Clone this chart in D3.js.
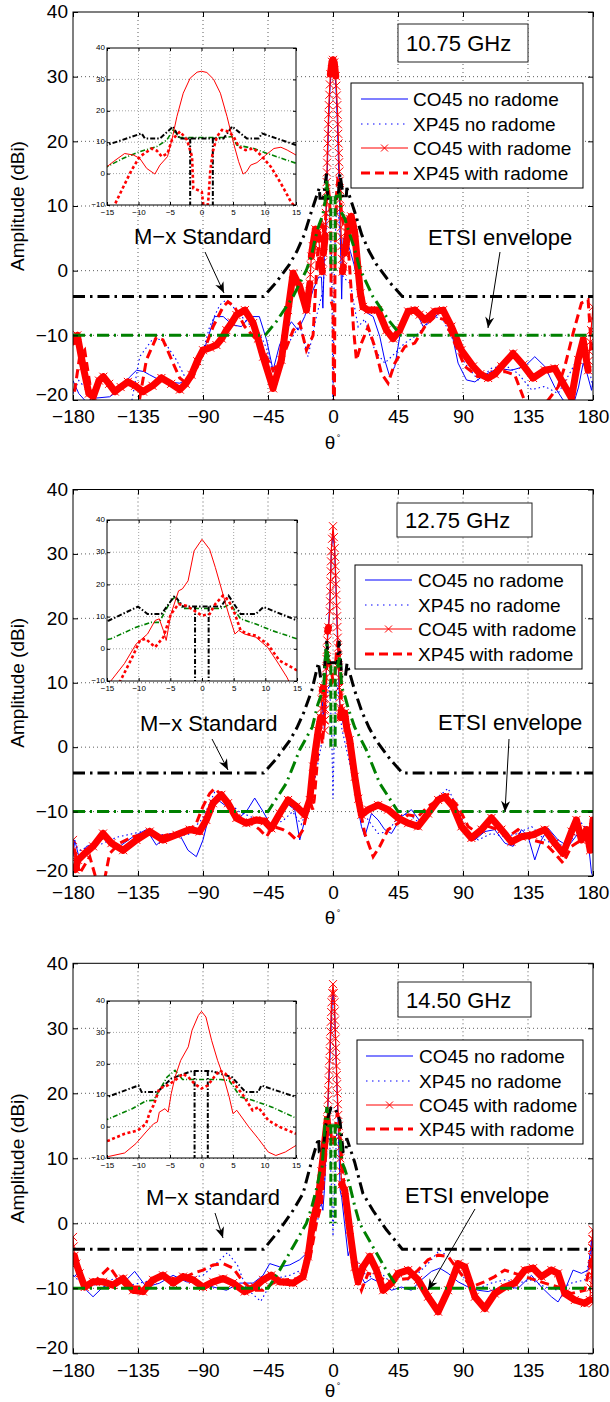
<!DOCTYPE html>
<html><head><meta charset="utf-8">
<script src="https://cdn.jsdelivr.net/npm/d3@7"></script>
<style>body{margin:0;background:#fff}svg{display:block}text{font-family:"Liberation Sans",Arial,Helvetica,sans-serif}</style>
</head><body><svg id="c" width="610" height="1402"></svg>
<script>
// ---------- ticks & labels ----------
const xTicks=[-180,-135,-90,-45,0,45,90,135,180];
const yTicks=[-20,-10,0,10,20,30,40];
const insetXTicks=[-15,-10,-5,0,5,10,15];
const insetYTicks=[-10,0,10,20,30,40];
const freqLabels=["10.75 GHz","12.75 GHz","14.50 GHz"];
const legendLabels=["CO45 no radome","XP45 no radome","CO45 with radome","XP45 with radome"];
const mxLabels=["M\u2212x Standard","M\u2212x Standard","M\u2212x standard"];
const etsiLabels=["ETSI envelope","ETSI envelope","ETSI envelope"];

// ---------- 10.75 GHz ----------
const coNoRad1075=[[-180,-17],[-176,-19],[-170,-20.5],[-164,-19.7],[-154.6,-19.5],[-147.7,-18.4],[-141,-16.5],[-136,-15.4],[-131,-15.6],[-127,-16.1],[-121,-16.8],[-115.4,-17.2],[-106,-17.4],[-101,-16.8],[-97,-15.6],[-90,-12.8],[-86,-10],[-82,-7.1],[-76,-7.1],[-72,-7.9],[-69,-8.4],[-63.4,-8.65],[-57.7,-7.1],[-51,-7.1],[-46,-10.7],[-41.5,-15.4],[-37,-11.5],[-32.3,-9.2],[-28.8,-7.9],[-24.2,-9.2],[-19.6,-7.1],[-13.8,-3],[-10,-1],[-8,-1],[-7,-5.8],[-6,2],[-5,6],[-4,15],[-3,23],[-2,28.5],[-1,31.5],[0,32],[1,31.5],[2,28.5],[3,23],[4,15],[5,6],[6,-4.4],[7,5],[9,5],[12,3],[14.5,1],[17.4,-2],[22,-6.3],[27.8,-7.1],[32.4,-10.2],[35.8,-13.8],[39.3,-16.4],[42.8,-14.8],[46.2,-10.2],[50.8,-6.1],[56.6,-5.8],[62.4,-8.65],[68.2,-7.6],[75,-6.3],[82,-9.4],[86.6,-14.3],[92.4,-16.9],[98.2,-17.2],[105,-16.1],[114.3,-15.1],[123.5,-15.4],[132.8,-14.8],[139.7,-13.3],[146.6,-14.8],[153.5,-18],[159.3,-20],[166,-21],[170,-18],[173.2,-14.3],[176,-16],[179,-18.5],[180,-17]];
const xpNoRad1075=[[-180,-19],[-176,-17],[-172,-18],[-168,-20],[-160,-21],[-140,-21],[-133.8,-13.3],[-124.6,-10.5],[-117.7,-10.7],[-108.4,-13.8],[-101.5,-16.9],[-92.3,-14.3],[-85.4,-8.65],[-78.4,-5.3],[-73.8,-4.5],[-69.2,-5.6],[-60,-7.9],[-50.8,-9.7],[-46,-12],[-41.5,-15.9],[-32.3,-11.75],[-23,-8.4],[-17.3,-13.3],[-11.5,-7.1],[-6.9,-3],[-4,8],[-2.5,10],[-1,2],[0,-20],[1,2],[2.5,10],[4,8],[7,-1],[12,-2],[17.4,-8.7],[22,-7.5],[28.9,-12.3],[35.8,-14.3],[42.8,-12.8],[49.7,-11.2],[56.6,-10.2],[63.5,-8.65],[70.5,-7.1],[76,-7.5],[82,-10.2],[91.2,-14.3],[100.5,-16.9],[109.7,-15.1],[118.9,-14.6],[128.1,-15.9],[137.4,-18.4],[146.6,-17.9],[155.8,-19],[165.1,-15.4],[172,-12.3],[176,-14],[180,-18]];
const coRad1075=[[-180,-11],[-177,-10],[-173,-14.8],[-169,-19],[-166,-19.5],[-162,-17],[-159,-16.4],[-155,-17.5],[-151,-18.7],[-147,-18],[-142,-17.2],[-137,-17.8],[-131.5,-18.7],[-125,-17.8],[-118.8,-16.6],[-112,-17.5],[-106,-18.4],[-102,-17.5],[-98,-16.1],[-94,-14],[-90,-12.3],[-85,-11.9],[-80.7,-11.5],[-77,-10.5],[-73.8,-9.2],[-70,-8],[-66.9,-6.85],[-61,-6.1],[-55.3,-8.1],[-52,-10.5],[-48.4,-13.3],[-41.5,-18.2],[-35.7,-13.8],[-31.1,-6.1],[-27.6,-0.4],[-23,-2.5],[-18.4,-6.1],[-16,-2],[-15,2.2],[-14,3.8],[-12.2,6.4],[-10.8,5.9],[-9.8,4.85],[-8.7,1.65],[-7.4,-0.15],[-6.6,2.7],[-5.4,5.4],[-4.7,10.7],[-3.9,18.2],[-2.9,25.6],[-1.8,30.4],[-0.7,32.3],[0,32.6],[0.85,32.2],[1.9,30.1],[3,25.6],[4.05,18.2],[5.1,9.6],[5.9,3.8],[6.6,-0.15],[7.15,0.6],[7.8,2.7],[8.8,3.5],[10.2,5.9],[11.5,8],[12.6,8.4],[13.6,7.5],[15,5.9],[17.4,0.1],[19,-3.5],[20.8,-5.6],[24.3,-6.1],[31.2,-6.1],[37,-9.2],[41.6,-10.5],[46.2,-9.2],[52,-6.3],[56.6,-6.1],[60,-6.8],[63.5,-7.6],[67,-7],[70.5,-6.3],[76.2,-6.1],[82,-8.65],[88.9,-12.3],[97,-14.8],[102,-16],[107.4,-16.6],[112,-16],[116.6,-14.8],[124.7,-12.8],[131.6,-14.6],[138.5,-16.6],[146.6,-15.4],[153.5,-15.1],[159.3,-17.4],[165.1,-19.7],[169.7,-13.8],[173.2,-10.7],[176.6,-15.4],[178,-11],[180,-5.6]];
const xpRad1075=[[-180,-18.5],[-178.8,-18.5],[-175.4,-13.3],[-171.9,-12.3],[-168.4,-17.4],[-165,-21],[-140,-22],[-134,-20],[-129.2,-13.8],[-122.3,-10.3],[-117.7,-10.7],[-110.7,-14.3],[-106.1,-16.6],[-101.5,-17.4],[-96.9,-16.4],[-90,-12.8],[-83,-8.65],[-76.1,-5.6],[-72.7,-4.8],[-68.1,-5.6],[-61.1,-8.65],[-53,-10.7],[-48.4,-12.3],[-41.5,-15.4],[-34.6,-13.3],[-27.6,-9.2],[-23,-8.1],[-18.4,-12.3],[-13.8,-10],[-12.4,-4.2],[-11.1,1.1],[-9.8,5.4],[-7.9,8],[-7.1,7.3],[-6.3,5.4],[-5.4,6.4],[-4.7,10.7],[-3.4,13.4],[-2.3,10.7],[-1.5,5.4],[-1.3,-4.7],[-0.5,-5.3],[0.05,-5.8],[0.4,-25],[0.9,-25],[1.4,1.1],[1.8,7],[2.45,11.8],[3.25,13.9],[4.3,13.4],[5.1,11.8],[5.9,8.6],[7,7.5],[8.3,8],[9.4,5.9],[11,2.2],[12.6,-3.1],[14.2,-9],[16.2,-13.8],[19.7,-11.2],[24.3,-8.7],[28.9,-11.75],[33.5,-15.9],[38.1,-17.4],[42.8,-14.3],[49.7,-11.75],[56.6,-11.2],[63.5,-8.65],[70.5,-7.1],[77.4,-7.6],[84.3,-11.2],[91.2,-14.8],[100.5,-16.4],[109.7,-15.9],[118.9,-15.6],[125.8,-16.1],[131.6,-19.5],[137.4,-23],[149,-20],[155.8,-18],[160.5,-14.8],[166.2,-9.7],[172,-5],[176.6,-4.5],[179,-12.3],[180,-13]];
const mx1075=[[-180,-4],[-48,-4],[-40,-2],[-30,1],[-25,3],[-20,5.5],[-15,9.1],[-9.5,12.8],[-9,11.2],[-6.6,11.2],[-4.5,15],[-3.5,11.2],[3.5,11.2],[4.85,15],[7.2,11.2],[9.1,11.2],[9.6,12.8],[15,9.1],[20,5.5],[25,3],[30,1],[40,-2],[48,-4],[180,-4]];
const mxNotch1075=[[[-1.8,11.2],[-1.8,-30]],[[1.8,11.2],[1.8,-30]]];
const etsi1075=[[-180,-10],[-47,-10],[-39,-7.8],[-27.6,-4],[-18.4,0.1],[-15,2.2],[-12.4,4.9],[-9.8,7],[-7.1,8.6],[-5.5,10.7],[-4.5,13.9],[-3.5,11.5],[3.5,11.5],[4.85,11.8],[5.6,9.1],[8.3,8],[9.6,7],[15,3.3],[18.4,0.4],[27.6,-4],[39,-7.8],[47,-10],[180,-10]];
const etsiNotch1075=[[[-1.5,11.5],[-1.5,0]],[[1.5,11.5],[1.5,0]]];
const insetCo1075=[[-15,2.2],[-14,3.8],[-12.2,6.4],[-10.8,5.9],[-9.8,4.85],[-8.7,1.65],[-7.4,-0.15],[-6.6,2.7],[-5.4,5.4],[-4.7,10.7],[-3.9,18.2],[-2.9,25.6],[-1.8,30.4],[-0.7,32.3],[0,32.6],[0.85,32.2],[1.9,30.1],[3,25.6],[4.05,18.2],[5.1,9.6],[5.9,3.8],[6.6,-0.15],[7.15,0.6],[7.8,2.7],[8.8,3.5],[10.2,5.9],[11.5,8],[12.6,8.4],[13.6,7.5],[15,5.9]];
const insetXp1075=[[-15,-14],[-13.8,-10],[-12.4,-4.2],[-11.1,1.1],[-9.8,5.4],[-7.9,8],[-7.1,7.3],[-6.3,5.4],[-5.4,6.4],[-4.7,10.7],[-3.4,13.4],[-2.3,10.7],[-1.5,5.4],[-1.3,-4.7],[-0.5,-5.3],[0.05,-5.8],[0.4,-12],[0.75,-14],[1.1,-8],[1.4,1.1],[1.8,7],[2.45,11.8],[3.25,13.9],[4.3,13.4],[5.1,11.8],[5.9,8.6],[7,7.5],[8.3,8],[9.4,5.9],[11,2.2],[12.6,-3.1],[14.2,-9],[15,-11]];

// ---------- 12.75 GHz ----------
const coNoRad1275=[[-180,-17],[-178.8,-14.4],[-175.4,-17.5],[-170.7,-15.4],[-163.8,-14.9],[-156.9,-13.9],[-147.7,-15.4],[-138.4,-13.9],[-129.2,-12.8],[-122.3,-15.2],[-113,-13.4],[-106.1,-13.6],[-100.4,-16],[-94.6,-17],[-90,-14.4],[-85.4,-10.3],[-79.6,-8.2],[-73.8,-9.2],[-66.9,-11.3],[-60,-10],[-54.2,-7.9],[-48.4,-10],[-42.7,-12.3],[-38,-11.3],[-32.3,-8.7],[-26.5,-9.7],[-23,-14.4],[-18.4,-10.3],[-13.8,-4],[-10,2],[-8,4],[-7,7],[-6,3],[-5,9],[-4,16],[-3,19],[-2,24],[-1,31],[0,33],[1,31],[2,25],[3,17],[4,10],[5,5],[6,4.5],[8,3],[10.5,0],[13,-4],[16,-8],[19.7,-12.3],[22,-13.9],[26.6,-10.3],[31.2,-11.3],[35.8,-12.8],[40.5,-13.4],[47.4,-10.8],[54.3,-9.7],[61.2,-11.8],[70.5,-8.7],[77.4,-7.7],[84.3,-9.7],[91.2,-12.8],[98.2,-14.4],[105.1,-13.1],[112,-12.8],[119,-14.9],[124.7,-15.4],[130.5,-12.8],[135.1,-13.9],[139.7,-17.5],[144.3,-14.4],[149,-12.6],[155.8,-14.4],[162.8,-15.4],[169.7,-13.4],[176.6,-14.4],[179,-19.6],[180,-20]];
const xpNoRad1275=[[-180,-15],[-175,-16],[-170,-15.5],[-160,-15],[-150,-14],[-140,-13.5],[-130,-13],[-120,-13.5],[-110,-14],[-100,-13.5],[-90,-11],[-82,-7],[-75,-8],[-65,-10],[-55,-11],[-45,-12],[-35,-11.5],[-28,-10],[-22,-12],[-15,-8],[-10,-2],[-6,3],[-4,8],[-2.5,10],[-1,3],[0,-8],[1,3],[2.5,10],[4,8],[6,3],[10,-1],[14,-5],[17.4,-8.2],[24.3,-11.3],[31.2,-13.4],[38.1,-13.1],[45.1,-10.8],[52,-10.3],[58.9,-11.6],[65.8,-9.7],[72.8,-7.7],[79.7,-6.4],[86.6,-9.7],[93.5,-13.4],[100.5,-14.4],[109.7,-13.4],[119,-13.9],[128.1,-13.4],[137.4,-12.3],[146.6,-14.4],[155.8,-15.4],[165.1,-14.4],[172,-11.8],[179,-13.4],[180,-14]];
const coRad1275=[[-180,-14.4],[-178.5,-19],[-176.5,-17.5],[-171.9,-16.5],[-166.1,-15.4],[-159.2,-13.4],[-153.4,-14.9],[-145.3,-16],[-136.1,-14.4],[-126.9,-13.1],[-117.7,-14.4],[-108.4,-13.6],[-99.2,-12.8],[-92.3,-13.1],[-87.7,-11.3],[-83.1,-8.7],[-77.3,-7.4],[-72.7,-8.7],[-66.9,-11],[-60,-11.8],[-53,-11.3],[-47.3,-11.5],[-42.7,-12.6],[-36.9,-10.3],[-31.1,-8.2],[-25.3,-9.2],[-19.6,-10.5],[-16.1,-8.2],[-13.8,-3],[-10.3,2.5],[-8.6,4.6],[-7.4,8.8],[-6.75,9.3],[-6.1,5.7],[-5.65,2.6],[-4.9,10.8],[-3.7,18],[-3.1,18.6],[-2.2,21.1],[-1.25,30.4],[0,34.3],[1.2,30.9],[2.1,25.3],[3.3,17],[4.2,10.8],[5.2,4.6],[5.8,5.7],[6.7,4.6],[8.1,5.3],[9.5,3],[11.6,1.1],[15.1,-4.6],[17.5,-8],[19.7,-10.5],[24.3,-9.7],[31.2,-9],[38.1,-9.7],[45.1,-11],[52,-11.8],[58.9,-12.3],[65.8,-10.3],[72.8,-8.2],[77.4,-7.7],[83.1,-9.2],[88.9,-12.3],[95.8,-14.1],[102.8,-12.8],[109.7,-11],[116.6,-12.8],[123.5,-14.7],[130.5,-13.9],[138.5,-13.6],[146.6,-12.8],[153.5,-14.9],[159.3,-16.5],[165.1,-13.1],[168.5,-11.3],[172,-14.4],[175.5,-12.8],[178,-16],[180,-11.3]];
const xpRad1275=[[-180,-16],[-178.8,-16],[-175.4,-19.6],[-168.4,-17],[-163.8,-20.6],[-159,-21.5],[-154.6,-16.5],[-147.7,-14.9],[-138.4,-13.9],[-129.2,-13.4],[-120,-13.9],[-110.7,-13.4],[-101.5,-13.4],[-94.6,-11.8],[-90,-9.2],[-85.4,-7.2],[-81.9,-6.4],[-76.1,-7.7],[-69.2,-10.3],[-60,-11.3],[-50.7,-12.8],[-46.1,-13.9],[-41.5,-12.3],[-34.6,-12.8],[-30,-13.4],[-25.3,-14.4],[-20.7,-12.8],[-16.1,-8.2],[-14,-9.7],[-12.9,-8],[-11,-2.6],[-9.8,2.6],[-8.9,3.1],[-7.4,0.5],[-6.1,3.6],[-4.9,10.8],[-3.7,13.9],[-2.5,13.4],[-1.25,11.9],[0,10.3],[1.2,10.8],[2.1,13.9],[3.3,16.5],[4.2,15],[5.2,10.8],[6.1,5.7],[7.3,4.6],[8.5,4.1],[10.5,3.2],[12.5,-1],[16.2,-6.6],[19,-10],[22,-13.4],[27.8,-17],[32.4,-15.4],[38.1,-12.8],[45.1,-11.8],[52,-10.5],[58.9,-10.8],[65.8,-9.2],[72.8,-8.2],[79.7,-7.4],[86.6,-9.2],[93.5,-12.3],[100.5,-13.4],[107.4,-12.3],[114.3,-12.8],[121.2,-13.9],[128.1,-12.8],[137.4,-14.4],[146.6,-14.9],[153.5,-16.5],[159.3,-18],[165.1,-15.4],[172,-14.4],[179,-12.3],[180,-12.5]];
const mx1275=[[-180,-4],[-48,-4],[-40,-2],[-30,1],[-25,3],[-20,5.5],[-14.7,8.8],[-10.1,13.1],[-8.6,10.8],[-6.4,10.8],[-4.3,16.5],[-3,13.1],[3,13.1],[4.2,16.5],[6.1,10.8],[8.5,10.8],[9.7,13],[15,8.8],[20,5.5],[25,3],[30,1],[40,-2],[48,-4],[180,-4]];
const mxNotch1275=[[[-1.1,13.1],[-1.1,-30]],[[1.05,13.1],[1.05,-30]]];
const etsi1275=[[-180,-10],[-45,-10],[-32.3,-5.6],[-23,-0.4],[-14.4,3.1],[-10.4,6.7],[-8,8.2],[-6.75,8.2],[-4.9,15],[-4.3,16],[-3,12.5],[3,12.5],[4.5,13.9],[6.1,9.3],[8.5,7.7],[11,5.7],[15,3.1],[23,-0.4],[32.3,-5.6],[45,-10],[180,-10]];
const etsiNotch1275=[[[-1.5,12.5],[-1.5,0]],[[1.5,12.5],[1.5,0]]];
const insetCo1275=[[-15,-12],[-14.4,-10],[-12.25,-4.6],[-10.4,1.5],[-8.6,4.6],[-7.4,8.8],[-6.75,9.3],[-6.1,5.7],[-5.65,2.6],[-4.9,10.8],[-3.7,18],[-3.1,18.6],[-2.2,21.1],[-1.25,30.4],[0,34],[1.2,30.9],[2.1,25.3],[3.3,17],[4.2,10.8],[5.2,4.6],[5.8,5.7],[6.7,4.6],[8.5,3.6],[10.35,0.5],[11.9,-4.1],[13.4,-8.8],[13.7,-10],[15,-12]];
const insetXp1275=[[-15,-14],[-12.9,-10],[-11,-2.6],[-9.8,2.6],[-8.9,3.1],[-7.4,0.5],[-6.1,3.6],[-4.9,10.8],[-3.7,13.9],[-2.5,13.4],[-1.25,11.9],[0,10.3],[1.2,10.8],[2.1,13.9],[3.3,16.5],[4.2,15],[5.2,10.8],[6.1,5.7],[7.3,4.6],[8.5,4.1],[10.35,1.5],[12.2,-3.6],[15,-6.7]];

// ---------- 14.50 GHz ----------
const coNoRad1450=[[-180,-8],[-178.8,-8.2],[-175.4,-7.2],[-170.7,-10.3],[-166.1,-11.3],[-159.2,-9.8],[-152.3,-9.2],[-143,-8.7],[-137.3,-7.4],[-129.2,-9.8],[-120,-9.2],[-110.7,-8],[-101.5,-9],[-92.3,-9.2],[-83,-9.8],[-73.8,-10.3],[-64.6,-9.2],[-55.3,-9.2],[-48.4,-8],[-43.8,-6.2],[-36.9,-6.7],[-29.9,-6.4],[-23,-5.6],[-17.3,-4.4],[-13.8,-1],[-9.2,4.1],[-7,2],[-6,5],[-5,10],[-4,15],[-3,21],[-2,26],[-1,32],[0,36],[1,33],[2,26],[3,19],[4,12],[5,5],[6,4],[8,0],[10.5,-5],[13,-3],[15,-5],[17.4,-7.2],[22,-9.2],[26.6,-8.5],[33.5,-9.2],[40.5,-10.3],[47.4,-9.8],[54.3,-10.3],[61.2,-8.7],[68.2,-7.4],[73.9,-6.9],[79.7,-7.7],[86.6,-9],[93.5,-9.8],[100.5,-10.3],[107.4,-10.5],[114.3,-10],[121.2,-9.8],[128.1,-10],[137.4,-8],[144.3,-9.8],[151.2,-11.3],[155.8,-12.1],[160.5,-10.3],[166.2,-7.2],[172,-7.7],[176.6,-7.2],[179,-2.6],[180,-12]];
const xpNoRad1450=[[-180,-8],[-170,-10],[-160,-9],[-150,-8.5],[-140,-9.5],[-130,-9],[-120,-8.5],[-110,-8.8],[-100,-8.5],[-90,-8],[-80,-6],[-73,-4.5],[-66,-6.5],[-60,-10],[-50,-12],[-45,-10],[-40,-8.5],[-30,-8],[-20,-7],[-15,-3],[-10,1],[-6,6],[-4,12],[-2.5,14],[-1,5],[0,-2],[1,5],[2.5,14],[4,12],[6,6],[10,0],[14,-4],[17.4,-6.2],[24.3,-8.5],[31.2,-7.2],[38.1,-8.7],[45.1,-8.2],[52,-8.7],[58.9,-7.7],[65.8,-6.2],[73.9,-4.1],[82,-5.6],[88.9,-7.7],[95.8,-10.3],[102.8,-9.8],[109.7,-9.2],[118.9,-8.7],[128.1,-9.2],[137.4,-8.7],[146.6,-9.8],[155.8,-10.3],[165.1,-9.2],[174.3,-8.7],[179,-4.1],[180,-8]];
const coRad1450=[[-180,-2.1],[-179,-5],[-177.7,-6.2],[-175.4,-7.7],[-171.9,-9.8],[-166.1,-9],[-159.2,-9],[-152.3,-9.5],[-145.3,-8.5],[-138.4,-10.3],[-131.5,-10.5],[-124.6,-8.7],[-117.7,-8],[-110.7,-9.2],[-103.8,-8.2],[-96.9,-8.7],[-90,-9.8],[-83,-9],[-76.1,-8.5],[-69.2,-9.2],[-61.1,-10.5],[-54.2,-9.8],[-48.4,-8.7],[-42.7,-8],[-36.9,-9],[-27.6,-9.2],[-20.7,-8.2],[-17.3,-5.1],[-13.8,0.5],[-10.3,3.6],[-8,8],[-6,12],[-4,16],[-3,22],[-2,28],[-1,34],[0,36.8],[1,34],[2,27],[3,20],[4,15],[5,10],[6,6],[8.1,5.1],[11.6,-1],[15.1,-6.7],[17.4,-9],[20.8,-6.7],[25.5,-5.1],[30.1,-7.2],[34.7,-10.3],[40.5,-9.2],[45.1,-7.7],[52,-7.2],[58.9,-8.7],[65.8,-11.3],[72.8,-13.6],[79.7,-10.3],[86.6,-6.2],[91.2,-6.7],[98.2,-11.3],[105.1,-13.1],[112,-10.8],[118.9,-9.8],[125.8,-9.2],[132.8,-7.2],[138.5,-6.9],[144.3,-8.2],[151.2,-7.2],[155.8,-7.7],[160.5,-10.8],[167.4,-11.8],[174.3,-12.3],[177.8,-11.8],[179,-8],[179.7,-1],[180,-12.3]];
const xpRad1450=[[-180,-5.1],[-178.8,-5.1],[-175.4,-8.7],[-168.4,-9.8],[-161.5,-8.2],[-154.6,-6.7],[-150,-8.2],[-143,-9.8],[-133.8,-9.8],[-124.6,-8.7],[-115.4,-8.2],[-106.1,-8.7],[-96.9,-7.7],[-90,-7.2],[-83,-6.4],[-76.1,-6.2],[-69.2,-6.9],[-62.3,-9],[-55.3,-10.3],[-48.4,-10.3],[-41.5,-9.2],[-32.3,-8.7],[-23,-8.5],[-16.1,-5.6],[-11.5,0],[-8,3],[-6,8],[-4,13],[-3,16],[-2,15],[-1,13],[0,12],[1,13],[2,15.5],[3,17],[4,16],[6,10],[8,5],[10.5,2],[15.1,-7.2],[19.7,-10.3],[24.3,-7.7],[31.2,-8.2],[38.1,-9],[45.1,-8.7],[52,-8.5],[58.9,-7.2],[65.8,-5.6],[72.8,-4.9],[79.7,-5.1],[86.6,-7.2],[95.8,-9.8],[105.1,-9],[112,-8.2],[118.9,-7.2],[125.8,-7.7],[132.8,-8.2],[139.7,-8.7],[146.6,-9.2],[155.8,-9.8],[165.1,-10.8],[174.3,-10.3],[179,-5.1],[180,-6]];
const mx1450=[[-180,-4],[-48,-4],[-37,-1],[-27.6,2],[-20.7,4.6],[-15,9.4],[-10,13.1],[-9.5,11],[-7,11],[-4.8,15.3],[-1.5,17.7],[1.5,17.7],[4.8,15.8],[7,11],[9,11],[9.5,13.1],[15,9.4],[20.7,4.6],[27.6,2],[37,-1],[48,-4],[180,-4]];
const mxNotch1450=[[[-1.1,17.7],[-1.1,-30]],[[1.0,17.7],[1.0,-30]]];
const etsi1450=[[-180,-10],[-45,-10],[-36.9,-7.2],[-27.6,-3.6],[-18.4,0],[-14.7,2.5],[-11,5.7],[-8.8,8.2],[-7.6,8.4],[-5.45,15.8],[-4.2,17.9],[-3,15],[3,15],[4.4,14.7],[6.2,9.4],[8.1,8.4],[11.2,6.2],[15,2.7],[18.4,0],[27.6,-3.6],[36.9,-7.2],[45,-10],[180,-10]];
const etsiNotch1450=[[[-1.5,15],[-1.5,0]],[[1.5,15],[1.5,0]]];
const insetCo1450=[[-15,-9.6],[-14.7,-9.5],[-12.2,-8.4],[-10.4,-5.4],[-8.8,-1.7],[-7.6,0.9],[-7,1.5],[-6.7,4.6],[-5.8,5.7],[-5.3,4.6],[-4.8,10.5],[-4.2,15.8],[-3.3,21.1],[-2.1,25.4],[-1.5,30.7],[-0.5,35.4],[0,36.7],[0.7,34.9],[1.6,27.5],[2.55,21.1],[3.5,15.8],[4.4,9.4],[5,4.1],[5.6,5.2],[7.5,-0.1],[9,-3.8],[10.6,-8.1],[11.8,-9.2],[13.3,-8.1],[15,-6]];
const insetXp1450=[[-15,-4.6],[-14.7,-4.4],[-12.2,-2.3],[-10.1,-1.2],[-8.8,0.9],[-8.2,4.6],[-7.6,6.8],[-6.7,12.1],[-5.45,13.1],[-4.2,14.7],[-3,16.8],[-2.1,15.8],[-1.15,13.7],[0,12.1],[1,13.1],[2,15.8],[2.9,17.9],[3.8,16.8],[5,14.2],[6.6,10],[8.1,5.2],[9,6.2],[10.6,2],[12.4,-0.1],[15,-2.3]];

// ---------- layout (positions only) ----------
const series=[
 {coNoRad:coNoRad1075,xpNoRad:xpNoRad1075,coRad:coRad1075,xpRad:xpRad1075,mx:mx1075,mxNotch:mxNotch1075,etsi:etsi1075,etsiNotch:etsiNotch1075,insetCo:insetCo1075,insetXp:insetXp1075},
 {coNoRad:coNoRad1275,xpNoRad:xpNoRad1275,coRad:coRad1275,xpRad:xpRad1275,mx:mx1275,mxNotch:mxNotch1275,etsi:etsi1275,etsiNotch:etsiNotch1275,insetCo:insetCo1275,insetXp:insetXp1275},
 {coNoRad:coNoRad1450,xpNoRad:xpNoRad1450,coRad:coRad1450,xpRad:xpRad1450,mx:mx1450,mxNotch:mxNotch1450,etsi:etsi1450,etsiNotch:etsiNotch1450,insetCo:insetCo1450,insetXp:insetXp1450}
];
const layout=[
 {top:12,bottom:400,thetaY:449,inset:[107,296,48,205],box:[398,24,130,38],leg:[351,83,232,105],rows:[99,124,148,173],lx:[361,408],tx:413,mx:[134,244,205,252,224,293],et:[428,245,500,252,488,328]},
 {top:489.5,bottom:876,thetaY:924,inset:[107,297,520,681],box:[397,503,135,34],leg:[355,565,227,104],rows:[580,605,629,654],lx:[365,412],tx:418,mx:[140,731,212,739,228,770],et:[438,730,509,739,505,812]},
 {top:963.3,bottom:1353.3,thetaY:1397,inset:[107,296,1001,1158],box:[398,982,133,35],leg:[357,1040,226,104],rows:[1056,1081,1105,1129],lx:[366,413],tx:419,mx:[146,1205,215,1213,223,1238],et:[405,1203,475,1209,428,1290]}
];

const svg=d3.select("#c");
const BLUE="#0000ff",RED="#ff0000",GREEN="#008000";
function xMarks(pts,h){h=h||3.5;return pts.map(([px,py])=>`M${px-h},${py-h}L${px+h},${py+h}M${px-h},${py+h}L${px+h},${py-h}`).join("");}

function arrow(g,x1,y1,x2,y2){
  g.append("line").attr("x1",x1).attr("y1",y1).attr("x2",x2).attr("y2",y2).attr("stroke","#000").attr("stroke-width",1);
  const a=Math.atan2(y2-y1,x2-x1),L=11,W=4.5;
  const c=Math.cos(a),s=Math.sin(a);
  const p=(dx,dy)=>[x2+dx*c-dy*s,y2+dx*s+dy*c];
  g.append("path").attr("d","M"+[p(0,0),p(-L,W),p(-L*0.7,0),p(-L,-W)].map(q=>q.join(",")).join("L")+"Z").attr("fill","#000");
}

series.forEach((S,i)=>{
  const Lo=layout[i];
  const g=svg.append("g");
  const x=d3.scaleLinear().domain([-180,180]).range([73,593]);
  const y=d3.scaleLinear().domain([-20,40]).range([Lo.bottom,Lo.top]);
  const line=d3.line().x(d=>x(d[0])).y(d=>y(d[1]));
  // grid
  const grid=g.append("g").attr("stroke","#333").attr("stroke-width",0.8).attr("stroke-dasharray","1,3");
  grid.selectAll("line.gx").data(xTicks.slice(1,-1)).join("line").attr("x1",d=>x(d)).attr("x2",d=>x(d)).attr("y1",Lo.top).attr("y2",Lo.bottom);
  grid.selectAll("line.gy").data(yTicks.slice(1,-1)).join("line").attr("x1",73).attr("x2",593).attr("y1",d=>y(d)).attr("y2",d=>y(d));
  // clip
  const cid="clip"+i;
  svg.append("clipPath").attr("id",cid).append("rect").attr("x",73).attr("y",Lo.top).attr("width",520).attr("height",Lo.bottom-Lo.top);
  const pl=g.append("g").attr("clip-path",`url(#${cid})`).attr("fill","none");
  pl.append("path").attr("d",line(S.coNoRad)).attr("stroke",BLUE).attr("stroke-width",1);
  pl.append("path").attr("d",line(S.xpNoRad)).attr("stroke",BLUE).attr("stroke-width",1.1).attr("stroke-dasharray","1.5,3");
  // CO45 with radome: dense 'x' markers render as a thick band where the trace is flat, and as a thin line with crosses where it is steep
  const pts=S.coRad.map(d=>[x(d[0]),y(d[1])]);
  let thick="",thin="";const marks=pts.slice();
  for(let k=0;k<pts.length-1;k++){
    const [x1,y1]=pts[k],[x2,y2]=pts[k+1];
    const dx=x2-x1,dy=y2-y1,slope=Math.abs(dy)/Math.max(Math.abs(dx),1e-6);
    if(slope<12){thick+=`M${x1},${y1}L${x2},${y2}`;}
    else{thin+=`M${x1},${y1}L${x2},${y2}`;
      const len=Math.hypot(dx,dy),n=Math.floor(len/9);
      for(let j=1;j<n;j++){marks.push([x1+dx*j/n,y1+dy*j/n]);}}
  }
  pl.append("path").attr("d",thick).attr("stroke",RED).attr("stroke-width",7).attr("stroke-linecap","round").attr("stroke-linejoin","round");
  pl.append("path").attr("d",thin).attr("stroke",RED).attr("stroke-width",1.2);
  pl.append("path").attr("d",xMarks(marks,4)).attr("stroke",RED).attr("stroke-width",1);
  pl.append("path").attr("d",line(S.xpRad)).attr("stroke",RED).attr("stroke-width",3).attr("stroke-dasharray","9,5");
  pl.append("path").attr("d",line(S.mx)).attr("stroke","#000").attr("stroke-width",3).attr("stroke-dasharray","12,5,2.5,5");
  pl.append("path").attr("d",line(S.etsi)).attr("stroke",GREEN).attr("stroke-width",3).attr("stroke-dasharray","12,5,2,5");
  S.etsiNotch.forEach(seg=>pl.append("path").attr("d",line(seg)).attr("stroke",GREEN).attr("stroke-width",3).attr("stroke-dasharray","8,4"));
  // axes
  const b=g.append("g").attr("transform",`translate(0,${Lo.bottom})`).call(d3.axisBottom(x).tickValues(xTicks).tickSizeInner(-5).tickSizeOuter(0).tickPadding(10));
  const l=g.append("g").attr("transform",`translate(73,0)`).call(d3.axisLeft(y).tickValues(yTicks).tickSizeInner(-5).tickSizeOuter(0).tickPadding(5));
  g.append("g").attr("transform",`translate(0,${Lo.top})`).call(d3.axisTop(x).tickValues(xTicks).tickSizeInner(-5).tickSizeOuter(0).tickFormat(""));
  g.append("g").attr("transform",`translate(593,0)`).call(d3.axisRight(y).tickValues(yTicks).tickSizeInner(-5).tickSizeOuter(0).tickFormat(""));
  g.selectAll(".domain").remove();
  [b,l].forEach(a=>a.selectAll("text").attr("font-size",19).attr("fill","#000").attr("font-family","Liberation Sans, Arial, sans-serif"));
  l.selectAll("text").attr("dy",d=>d===-20?"0.02em":"0.3em");
  g.append("rect").attr("x",73).attr("y",Lo.top).attr("width",520).attr("height",Lo.bottom-Lo.top).attr("fill","none").attr("stroke","#000").attr("stroke-width",1);
  // axis labels
  g.append("text").attr("transform",`translate(24,${(Lo.top+Lo.bottom)/2}) rotate(-90)`).attr("text-anchor","middle").attr("font-size",19).text("Amplitude (dBi)");
  g.append("text").attr("x",330).attr("y",Lo.thetaY).attr("text-anchor","middle").attr("font-size",19).text("\u03b8");
  g.append("text").attr("x",338.5).attr("y",Lo.thetaY-8).attr("text-anchor","middle").attr("font-size",9).text("\u00b0");

  // inset
  const [ix0,ix1,iy0,iy1]=Lo.inset;
  const xi=d3.scaleLinear().domain([-15,15]).range([ix0,ix1]);
  const yi=d3.scaleLinear().domain([-10,40]).range([iy1,iy0]);
  const li=d3.line().x(d=>xi(d[0])).y(d=>yi(d[1]));
  const ig=g.append("g");
  ig.append("rect").attr("x",ix0).attr("y",iy0).attr("width",ix1-ix0).attr("height",iy1-iy0).attr("fill","#fff");
  const igr=ig.append("g").attr("stroke","#666").attr("stroke-width",0.6).attr("stroke-dasharray","1,2");
  igr.selectAll("line.a").data(insetXTicks.slice(1,-1)).join("line").attr("x1",d=>xi(d)).attr("x2",d=>xi(d)).attr("y1",iy0).attr("y2",iy1);
  igr.selectAll("line.b").data(insetYTicks.slice(1,-1)).join("line").attr("x1",ix0).attr("x2",ix1).attr("y1",d=>yi(d)).attr("y2",d=>yi(d));
  const icid="iclip"+i;
  svg.append("clipPath").attr("id",icid).append("rect").attr("x",ix0).attr("y",iy0).attr("width",ix1-ix0).attr("height",iy1-iy0);
  const ip=ig.append("g").attr("clip-path",`url(#${icid})`).attr("fill","none");
  ip.append("path").attr("d",li(S.etsi)).attr("stroke",GREEN).attr("stroke-width",1.6).attr("stroke-dasharray","5,2,1,2");
  ip.append("path").attr("d",li(S.mx)).attr("stroke","#000").attr("stroke-width",2).attr("stroke-dasharray","5,2,1.5,2");
  S.mxNotch.forEach(seg=>ip.append("path").attr("d",li(seg)).attr("stroke","#000").attr("stroke-width",2).attr("stroke-dasharray","5,2,1.5,2"));
  ip.append("path").attr("d",li(S.insetCo)).attr("stroke",RED).attr("stroke-width",1);
  ip.append("path").attr("d",li(S.insetXp)).attr("stroke",RED).attr("stroke-width",2.6).attr("stroke-dasharray","3,2.5");
  const ib=ig.append("g").attr("transform",`translate(0,${iy1})`).call(d3.axisBottom(xi).tickValues(insetXTicks).tickSizeInner(-3).tickSizeOuter(0).tickPadding(4));
  const il=ig.append("g").attr("transform",`translate(${ix0},0)`).call(d3.axisLeft(yi).tickValues(insetYTicks).tickSizeInner(-3).tickSizeOuter(0).tickPadding(2));
  ig.append("g").attr("transform",`translate(0,${iy0})`).call(d3.axisTop(xi).tickValues(insetXTicks).tickSizeInner(-3).tickSizeOuter(0).tickFormat(""));
  ig.append("g").attr("transform",`translate(${ix1},0)`).call(d3.axisRight(yi).tickValues(insetYTicks).tickSizeInner(-3).tickSizeOuter(0).tickFormat(""));
  ig.selectAll(".domain").remove();
  [ib,il].forEach(a=>a.selectAll("text").attr("font-size",8).attr("fill","#000").attr("font-family","Liberation Sans, Arial, sans-serif"));
  il.selectAll("text").attr("dy","0.2em");
  ig.append("rect").attr("x",ix0).attr("y",iy0).attr("width",ix1-ix0).attr("height",iy1-iy0).attr("fill","none").attr("stroke","#000").attr("stroke-width",1);

  // frequency box
  const [bx,by,bw,bh]=Lo.box;
  g.append("rect").attr("x",bx).attr("y",by).attr("width",bw).attr("height",bh).attr("fill","#fff").attr("stroke","#222").attr("stroke-width",1);
  g.append("text").attr("x",bx+8).attr("y",by+bh/2+8).attr("font-size",22).text(freqLabels[i]);

  // legend
  const [gx,gy,gw,gh]=Lo.leg;
  const lg=g.append("g");
  lg.append("rect").attr("x",gx).attr("y",gy).attr("width",gw).attr("height",gh).attr("fill","#fff").attr("stroke","#000").attr("stroke-width",1);
  const styles=[{c:BLUE,w:1.2,d:null},{c:BLUE,w:1.2,d:"1.5,4.5"},{c:RED,w:1,d:null,m:true},{c:RED,w:3,d:"9,5"}];
  legendLabels.forEach((t,k)=>{
    const ry=Lo.rows[k],st=styles[k];
    const ln=lg.append("line").attr("x1",Lo.lx[0]).attr("x2",Lo.lx[1]).attr("y1",ry).attr("y2",ry).attr("stroke",st.c).attr("stroke-width",st.w);
    if(st.d) ln.attr("stroke-dasharray",st.d);
    if(st.m) lg.append("path").attr("d",xMarks([[(Lo.lx[0]+Lo.lx[1])/2,ry]],3.5)).attr("stroke",RED).attr("stroke-width",1);
    lg.append("text").attr("x",Lo.tx).attr("y",ry+7).attr("font-size",19).text(t);
  });

  // annotations
  g.append("text").attr("x",Lo.mx[0]).attr("y",Lo.mx[1]).attr("font-size",22).text(mxLabels[i]);
  arrow(g,Lo.mx[2],Lo.mx[3],Lo.mx[4],Lo.mx[5]);
  g.append("text").attr("x",Lo.et[0]).attr("y",Lo.et[1]).attr("font-size",22).text(etsiLabels[i]);
  arrow(g,Lo.et[2],Lo.et[3],Lo.et[4],Lo.et[5]);
});
</script></body></html>
